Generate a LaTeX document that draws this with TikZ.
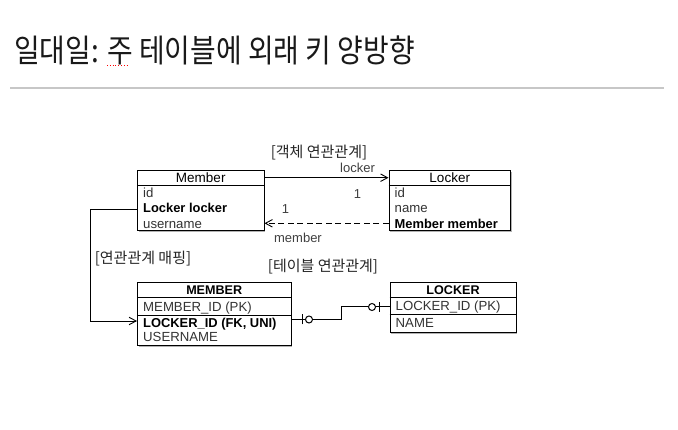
\documentclass[tikz,border=0pt]{standalone}
\usepackage{fontspec}
\setmainfont{Liberation Sans}
\newfontfamily\krfont{Noto Sans CJK KR}
\usetikzlibrary{arrows.meta, positioning, decorations.markings, shadows}

\tikzset{
  entity/.style={draw, line width=1pt, fill=white, anchor=north west, inner sep=0pt,
    drop shadow={shadow xshift=1.2pt, shadow yshift=-1.2pt, fill=black, opacity=.3}},
  headtext/.style={anchor=base, inner sep=0pt, font=\fontsize{13.5}{15}\selectfont},
  tablehead/.style={headtext, font=\fontsize{12.6}{15}\selectfont\bfseries},
  fieldtext/.style={anchor=base west, inner sep=0pt, font=\fontsize{13.2}{15}\selectfont, text=black!80},
  keytext/.style={fieldtext, text=black, font=\fontsize{12.9}{15}\selectfont\bfseries},
  krlabel/.style={inner sep=0pt, font=\krfont\fontsize{15}{17}\selectfont, text=black!85},
  rolelabel/.style={inner sep=0pt, font=\fontsize{13}{15}\selectfont, text=black!75},
  assoc/.style={line width=.9pt, -{Straight Barb[length=7pt,width=7.5pt]}},
  zeroone/.style={line width=1pt, postaction={decorate}, decoration={markings,
    mark=at position 10.5pt with {\draw[line width=1pt] (0,-5pt) -- (0,5pt);},
    mark=at position 17.5pt with {\draw[line width=1pt, fill=white] (0,0) circle (3.5pt);},
    mark=at position -10.5pt with {\draw[line width=1pt] (0,-5pt) -- (0,5pt);},
    mark=at position -17.5pt with {\draw[line width=1pt, fill=white] (0,0) circle (3.5pt);}}}
}

\begin{document}
\begin{tikzpicture}[x=1pt, y=-1pt]
\fill[white] (0,0) rectangle (678,430);
\useasboundingbox (0,0) rectangle (678,430);

% title
\node[anchor=base west, inner sep=0pt, text=black!90] (title) at (14,63)
  {\scalebox{0.872}[1]{\krfont\fontsize{32}{36}\selectfont 일대일: 주 테이블에 외래 키 양방향}};
\draw[red, dotted, line width=.8pt] (107,65) -- (129,65);
\draw[black!22, line width=1.5pt] (10,88) -- (664,88);

% object classes
\node[entity, minimum width=126.5pt, minimum height=60.5pt] (Member) at (137,170) {};
\draw[line width=1pt] ([yshift=-16pt]Member.north west) -- ([yshift=-16pt]Member.north east);
\node[headtext] (MemberHead) at ([yshift=-12.7pt]Member.north) {Member};
\node[fieldtext] (MemberId) at ([xshift=6pt, yshift=-27.7pt]Member.north west) {id};
\node[keytext] (MemberLocker) at ([xshift=6pt, yshift=-43pt]Member.north west) {Locker locker};
\node[fieldtext] (MemberName) at ([xshift=6pt, yshift=-58.3pt]Member.north west) {username};

\node[entity, minimum width=121.5pt, minimum height=60.5pt] (Locker) at (388.5,170) {};
\draw[line width=1pt] ([yshift=-16pt]Locker.north west) -- ([yshift=-16pt]Locker.north east);
\node[headtext] (LockerHead) at ([yshift=-12.7pt]Locker.north) {Locker};
\node[fieldtext] (LockerId) at ([xshift=6pt, yshift=-27.7pt]Locker.north west) {id};
\node[fieldtext] (LockerName) at ([xshift=6pt, yshift=-43pt]Locker.north west) {name};
\node[keytext] (LockerMember) at ([xshift=6pt, yshift=-58.3pt]Locker.north west) {Member member};

% tables
\node[entity, minimum width=153.5pt, minimum height=63pt] (MEMBER) at (137,282) {};
\draw[line width=1pt] ([yshift=-16pt]MEMBER.north west) -- ([yshift=-16pt]MEMBER.north east);
\draw[line width=1pt] ([yshift=-34pt]MEMBER.north west) -- ([yshift=-34pt]MEMBER.north east);
\node[tablehead] (MEMBERHead) at ([yshift=-12.6pt]MEMBER.north) {MEMBER};
\node[fieldtext] (MEMBERId) at ([xshift=6pt, yshift=-29.8pt]MEMBER.north west) {MEMBER\_ID (PK)};
\node[keytext] (MEMBERLocker) at ([xshift=6pt, yshift=-45.2pt]MEMBER.north west) {LOCKER\_ID (FK, UNI)};
\node[fieldtext] (MEMBERName) at ([xshift=6pt, yshift=-59.7pt]MEMBER.north west) {USERNAME};

\node[entity, minimum width=126pt, minimum height=50pt] (LOCKER) at (389.5,282) {};
\draw[line width=1pt] ([yshift=-16pt]LOCKER.north west) -- ([yshift=-16pt]LOCKER.north east);
\draw[line width=1pt] ([yshift=-33pt]LOCKER.north west) -- ([yshift=-33pt]LOCKER.north east);
\node[tablehead] (LOCKERHead) at ([yshift=-12.6pt]LOCKER.north) {LOCKER};
\node[fieldtext] (LOCKERId) at ([xshift=6pt, yshift=-29pt]LOCKER.north west) {LOCKER\_ID (PK)};
\node[fieldtext] (LOCKERName) at ([xshift=6pt, yshift=-46pt]LOCKER.north west) {NAME};

% object associations
\draw[assoc] ([yshift=-7.7pt]Member.north east) -- ([yshift=-7.7pt]Locker.north west)
  node[rolelabel, pos=.75, yshift=10pt] (toLocker) {locker}
  node[rolelabel, pos=.75, yshift=-16.3pt] (toLockerMult) {1};
\draw[assoc, dash pattern=on 6pt off 3.5pt] ([yshift=-53.3pt]Locker.north west) -- ([yshift=-53.3pt]Member.north east)
  node[rolelabel, pos=.83, yshift=14.3pt] (toMemberMult) {1}
  node[rolelabel, pos=.73, yshift=-14.5pt] (toMember) {member};
\node[krlabel] (objLabel) at (319,153) {[객체 연관관계]};

% mapping
\draw[assoc] ([yshift=-39.3pt]Member.north west) -- ++(-46.5,0) |- ([yshift=-39pt]MEMBER.north west);
\node[krlabel] (mapLabel) at (143,259) {[연관관계 매핑]};

% table relation
\draw[zeroone] ([yshift=-37.5pt]MEMBER.north east) -- ++(49.5,0) |- ([yshift=-25pt]LOCKER.north west);
\node[krlabel] (tableLabel) at (323,267) {[테이블 연관관계]};
\end{tikzpicture}
\end{document}
